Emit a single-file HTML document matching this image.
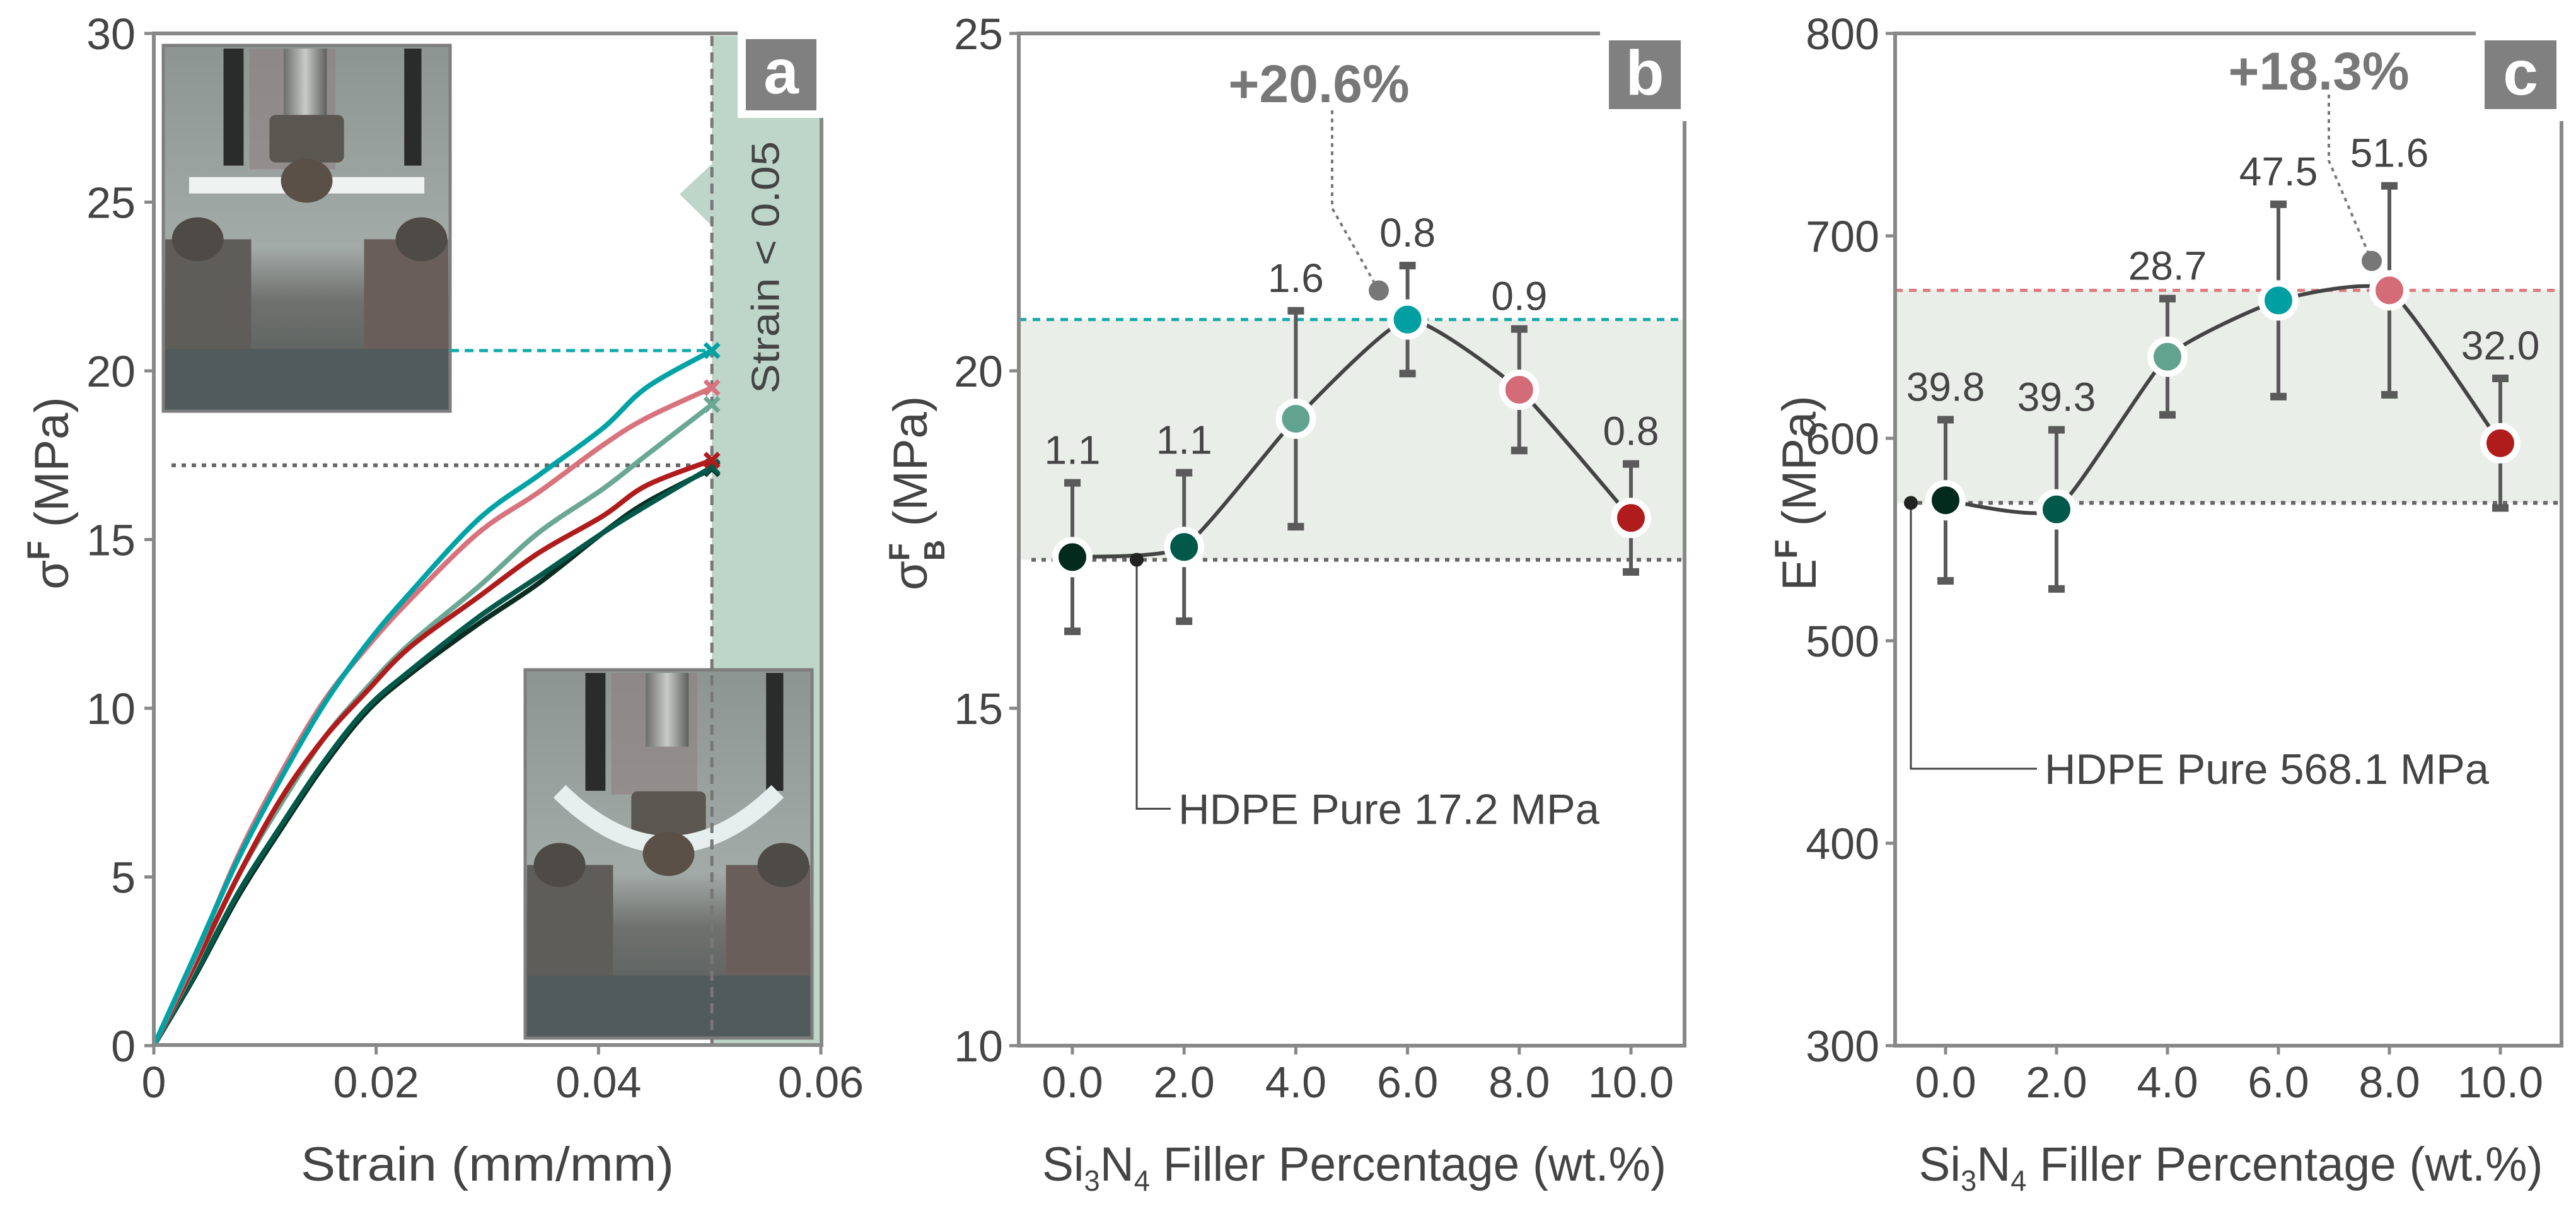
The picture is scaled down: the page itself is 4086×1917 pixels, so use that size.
<!DOCTYPE html>
<html><head><meta charset="utf-8"><style>
html,body{margin:0;padding:0;background:#fff;}
svg{display:block;font-family:"Liberation Sans",sans-serif;}
</style></head><body>
<svg id="fig" xmlns="http://www.w3.org/2000/svg" width="4086" height="1917" viewBox="0 0 4086 1917">
<defs>
<linearGradient id="bgA" x1="0" y1="0" x2="0" y2="1"><stop offset="0" stop-color="#8d9593"/><stop offset="0.55" stop-color="#a3aba8"/><stop offset="0.7" stop-color="#6f716e"/><stop offset="1" stop-color="#4f5857"/></linearGradient>
<linearGradient id="rod" x1="0" y1="0" x2="1" y2="0"><stop offset="0" stop-color="#6c6e6c"/><stop offset="0.5" stop-color="#c8cbc8"/><stop offset="1" stop-color="#5d5f5d"/></linearGradient>
</defs>
<g id="panelA"></g>
<g id="panelB"></g>
<g id="panelC"></g>
</svg>
<script>
// ---------- Panel a data ----------
const strainPts = [0, 0.00368, 0.00754, 0.0114, 0.01528, 0.01915, 0.0230, 0.0292, 0.0346, 0.0404, 0.0443, 0.0502];
const curveTeal  = [0, 2.67, 5.5, 7.9, 10.1, 11.9, 13.4, 15.6, 16.9, 18.3, 19.5, 20.6];
const curvePink  = [0, 2.6, 5.6, 8.05, 10.2, 11.8, 13.2, 15.2, 16.4, 17.8, 18.6, 19.5];
const curveSage  = [0, 2.35, 5.0, 7.15, 9.1, 10.6, 11.9, 13.6, 15.2, 16.5, 17.5, 19.0];
const curveRed   = [0, 2.4, 5.0, 7.3, 9.1, 10.5, 11.8, 13.3, 14.6, 15.7, 16.6, 17.35];
const curveDkGrn = [0, 2.1, 4.5, 6.5, 8.4, 10.0, 11.1, 12.7, 13.9, 15.2, 16.0, 17.15];
const curveDark  = [0, 2.05, 4.4, 6.4, 8.3, 9.9, 11.0, 12.5, 13.7, 15.2, 16.1, 17.1];
const aTicksX = [0, 0.02, 0.04, 0.06];
const aTickLabelsX = ["0", "0.02", "0.04", "0.06"];
const aTicksY = [0, 5, 10, 15, 20, 25, 30];
// ---------- Panel b data ----------
const filler = [0, 2, 4, 6, 8, 10];
const strengthB = [17.24, 17.39, 19.29, 20.76, 19.72, 17.82];
const strengthErr = [1.1, 1.1, 1.6, 0.8, 0.9, 0.8];
const strengthErrLabels = ["1.1", "1.1", "1.6", "0.8", "0.9", "0.8"];
const bTicksY = [10, 15, 20, 25];
const xTickLabels = ["0.0", "2.0", "4.0", "6.0", "8.0", "10.0"];
// ---------- Panel c data ----------
const modulusC = [569.4, 564.9, 640.3, 668.1, 673.1, 597.6];
const modulusErr = [39.8, 39.3, 28.7, 47.5, 51.6, 32.0];
const modulusErrLabels = ["39.8", "39.3", "28.7", "47.5", "51.6", "32.0"];
const cTicksY = [300, 400, 500, 600, 700, 800];

const ptColors = ["#022a1d", "#02594a", "#62a390", "#00a0a2", "#d46c77", "#b01c1c"];
const NS = "http://www.w3.org/2000/svg";
function mk(parent, tag, attrs, text) {
  const e = document.createElementNS(NS, tag);
  for (const k in attrs) e.setAttribute(k, attrs[k]);
  if (text !== undefined) e.textContent = text;
  parent.appendChild(e);
  return e;
}
function smooth(pts, t) {
  const k = t || 6;
  let d = "M" + pts[0][0] + "," + pts[0][1];
  for (let i = 0; i < pts.length - 1; i++) {
    const p0 = pts[Math.max(0, i - 1)], p1 = pts[i], p2 = pts[i + 1], p3 = pts[Math.min(pts.length - 1, i + 2)];
    const c1x = p1[0] + (p2[0] - p0[0]) / k, c1y = p1[1] + (p2[1] - p0[1]) / k;
    const c2x = p2[0] - (p3[0] - p1[0]) / k, c2y = p2[1] - (p3[1] - p1[1]) / k;
    d += " C" + c1x + "," + c1y + " " + c2x + "," + c2y + " " + p2[0] + "," + p2[1];
  }
  return d;
}
const AX = "#888", TXT = "#444";

// ================= PANEL A =================
(function () {
  const g = document.getElementById("panelA");
  const xA = s => 244 + s * (1058 / 0.06);
  const yA = v => 1658 - v * 53.5;
  const limX = xA(0.0502);
  const band = mk(g, "rect", { x: limX, y: 57, width: 1303 - limX, height: 1600, fill: "#bed5c9" });
  
  
  const tri = mk(g, "polygon", { points: `1078,308 ${limX},260 ${limX},358`, fill: "#bed5c9" });
  
  
  const bt = mk(g, "text", { x: 1215, y: 424, "font-size": 62, fill: TXT, "text-anchor": "middle", "dominant-baseline": "central", transform: "rotate(-90 1215 424)", textLength: 400, lengthAdjust: "spacingAndGlyphs" }, "Strain < 0.05");
  
  
  function photo(x, y, w, h, bent, name) {
    const pg = mk(g, "g", {});
    
    
    mk(pg, "rect", { x: x, y: y, width: w, height: h, fill: "url(#bgA)", stroke: "#7d7d7d", "stroke-width": 5 });
    mk(pg, "rect", { x: x + w * 0.21, y: y + 5, width: w * 0.07, height: h * 0.32, fill: "#2a2c2c" });
    mk(pg, "rect", { x: x + w * 0.84, y: y + 5, width: w * 0.06, height: h * 0.32, fill: "#2a2c2c" });
    mk(pg, "rect", { x: x + w * 0.3, y: y + 5, width: w * 0.3, height: h * 0.33, fill: "#8f7e80", opacity: 0.6 });
    mk(pg, "rect", { x: x + w * 0.42, y: y + 5, width: w * 0.15, height: h * 0.2, fill: "url(#rod)" });
    mk(pg, "rect", { x: x + w * 0.37, y: y + h * (bent ? 0.33 : 0.19), width: w * 0.26, height: h * 0.13, fill: "#5c5650", rx: 10 });
    const py = y + h * (bent ? 0.5 : 0.43);
    if (bent) mk(pg, "path", { d: `M${x + w * 0.12},${y + h * 0.33} Q${x + w * 0.5},${y + h * 0.62} ${x + w * 0.88},${y + h * 0.33}`, stroke: "#e6eeee", "stroke-width": 28, fill: "none" });
    else mk(pg, "rect", { x: x + w * 0.09, y: y + h * 0.36, width: w * 0.82, height: 26, fill: "#eef2f1" });
    mk(pg, "ellipse", { cx: x + w * 0.5, cy: py - (bent ? 0 : h * 0.06), rx: w * 0.09, ry: h * 0.06, fill: "#5a5048" });
    mk(pg, "rect", { x: x + 3, y: y + h * 0.53, width: w * 0.3, height: h * 0.3, fill: "#5f5d5a" });
    mk(pg, "rect", { x: x + w * 0.7, y: y + h * 0.53, width: w * 0.3 - 3, height: h * 0.3, fill: "#6a5e5a" });
    mk(pg, "ellipse", { cx: x + w * 0.12, cy: y + h * 0.53, rx: w * 0.09, ry: h * 0.06, fill: "#4e4a46" });
    mk(pg, "ellipse", { cx: x + w * 0.9, cy: y + h * 0.53, rx: w * 0.09, ry: h * 0.06, fill: "#4e4a46" });
    mk(pg, "rect", { x: x + 3, y: y + h * 0.83, width: w - 6, height: h * 0.17 - 3, fill: "#525b5b" });
  }
  photo(259, 72, 455, 580, false, "photo-unloaded");
  photo(833, 1062, 455, 584, true, "photo-loaded");
  const gl1 = mk(g, "line", { x1: 714, y1: yA(20.6), x2: limX, y2: yA(20.6), stroke: "#11aaaa", "stroke-width": 5, "stroke-dasharray": "14,9" });
  
  
  const gl2 = mk(g, "line", { x1: 272, y1: yA(17.2), x2: limX, y2: yA(17.2), stroke: "#666", "stroke-width": 6, "stroke-dasharray": "7,9" });
  
  
  const vl = mk(g, "line", { x1: limX, y1: 57, x2: limX, y2: 1657, stroke: "#777", "stroke-width": 5, "stroke-dasharray": "16,10" });
  
  
  const series = [[curveDark, "#0b2d22"], [curveDkGrn, "#02594a"], [curveSage, "#6aa895"], [curveRed, "#b01c1c"], [curvePink, "#d8737d"], [curveTeal, "#00a3a5"]];
  const names = ["curve-0wt", "curve-2wt", "curve-4wt", "curve-10wt", "curve-8wt", "curve-6wt"];
  series.forEach((s, i) => {
    const pts = strainPts.map((e, j) => [xA(e), yA(s[0][j])]);
    const p = mk(g, "path", { d: smooth(pts, 6), stroke: s[1], "stroke-width": 8, fill: "none", "stroke-linejoin": "round" });
    
    
    const ex = pts[pts.length - 1][0], ey = pts[pts.length - 1][1];
    const m = mk(g, "path", { d: `M${ex - 11},${ey - 11}L${ex + 11},${ey + 11}M${ex - 11},${ey + 11}L${ex + 11},${ey - 11}`, stroke: s[1], "stroke-width": 7 });
    
    
  });
  const ax = mk(g, "path", { d: "M1170,53 L244,53 L244,1657 L1303,1657 L1303,187", stroke: AX, "stroke-width": 6, fill: "none" });
  
  
  aTicksX.forEach((t, i) => {
    mk(g, "line", { x1: xA(t), y1: 1657, x2: xA(t), y2: 1672, stroke: AX, "stroke-width": 5 });
    const tl = mk(g, "text", { x: xA(t), y: 1740, "font-size": 70, fill: TXT, "text-anchor": "middle" }, aTickLabelsX[i]);
    
    
  });
  aTicksY.forEach(t => {
    mk(g, "line", { x1: 229, y1: yA(t), x2: 244, y2: yA(t), stroke: AX, "stroke-width": 5 });
    const tl = mk(g, "text", { x: 215, y: yA(t) + 25, "font-size": 70, fill: TXT, "text-anchor": "end" }, String(t));
    
    
  });
  const xt = mk(g, "text", { x: 773, y: 1872, "font-size": 76, fill: TXT, "text-anchor": "middle", textLength: 592, lengthAdjust: "spacingAndGlyphs" }, "Strain (mm/mm)");
  
  
  const yt = mk(g, "text", { x: 0, y: 0, "font-size": 76, fill: TXT, "text-anchor": "middle", transform: "translate(108 782) rotate(-90)" });
  
  
  yt.innerHTML = 'σ<tspan font-size="50" dy="-30" font-weight="bold">F</tspan><tspan dy="30">  (MPa)</tspan>';
  mk(g, "rect", { x: 1170, y: 48, width: 135, height: 139, fill: "#fff" });
  const lb = mk(g, "rect", { x: 1183, y: 62, width: 112, height: 113, fill: "#808080" });
  
  
  mk(g, "text", { x: 1239, y: 148, "font-size": 100, "font-weight": "bold", fill: "#fff", "text-anchor": "middle" }, "a");
})();

// ============ Panels b & c ============
function buildPanel(gid, cfg) {
  const g = document.getElementById(gid);
  const xS = p => cfg.x0 + p * cfg.dx;
  const yS = v => 1658 - (v - cfg.ymin) * cfg.ky;
  const L = cfg.left, R = cfg.right;
  const sh = mk(g, "rect", { x: L, y: yS(cfg.hi), width: R - L, height: yS(cfg.base) - yS(cfg.hi), fill: "#e9eee8" });
  
  
  const hl = mk(g, "line", { x1: L, y1: yS(cfg.hi), x2: R, y2: yS(cfg.hi), stroke: cfg.hiColor, "stroke-width": 5, "stroke-dasharray": "12,10" });
  
  
  const bl = mk(g, "line", { x1: L + 20, y1: yS(cfg.base), x2: R, y2: yS(cfg.base), stroke: "#666", "stroke-width": 6, "stroke-dasharray": "7,9" });
  
  
  const ann = mk(g, "path", { d: `M${cfg.dotX},${yS(cfg.base)} L${cfg.dotX},${yS(cfg.annV)} L${cfg.annX},${yS(cfg.annV)}`, stroke: "#444", "stroke-width": 3, fill: "none" });
  
  
  const at = mk(g, "text", { x: cfg.annX + 12, y: yS(cfg.annV) + 24, "font-size": 68, fill: TXT, textLength: cfg.annLen, lengthAdjust: "spacingAndGlyphs" }, cfg.annText);
  
  
  const pl = mk(g, "path", { d: `M${cfg.pctLineX},${cfg.pctTop} L${cfg.pctLineX},${cfg.pctElbow} L${cfg.gdX},${yS(cfg.gdV)}`, stroke: "#777", "stroke-width": 4, fill: "none", "stroke-dasharray": "6,7" });
  
  
  mk(g, "circle", { cx: cfg.gdX, cy: yS(cfg.gdV), r: 16, fill: "#777" });
  const pt = mk(g, "text", { x: cfg.pctX, y: cfg.pctY, "font-size": 84, "font-weight": "bold", fill: "#777", "text-anchor": "middle" }, cfg.pctText);
  
  
  const pts = filler.map((p, i) => [xS(p), yS(cfg.vals[i])]);
  const ln = mk(g, "path", { d: smooth(pts, 12), stroke: "#444", "stroke-width": 6, fill: "none" });
  
  
  mk(g, "circle", { cx: cfg.dotX, cy: yS(cfg.base), r: 11, fill: "#222" });
  filler.forEach((p, i) => {
    const x = xS(p), v = cfg.vals[i], e = cfg.errs[i];
    const eb = mk(g, "path", { d: `M${x},${yS(v + e)} L${x},${yS(v - e)}`, stroke: "#5a5a5a", "stroke-width": 6, fill: "none" });
    
    
    mk(g, "rect", { x: x - 13, y: yS(v + e) - 6, width: 26, height: 12, fill: "#5a5a5a" });
    mk(g, "rect", { x: x - 13, y: yS(v - e) - 6, width: 26, height: 12, fill: "#5a5a5a" });
    const c = mk(g, "circle", { cx: x, cy: yS(v), r: 27, fill: ptColors[i], stroke: "#fff", "stroke-width": 10 });
    
    
    const lt = mk(g, "text", { x: x, y: yS(v + e) - 30, "font-size": 64, fill: TXT, "text-anchor": "middle" }, cfg.errLabels[i]);
    
    
  });
  const ax = mk(g, "path", { d: `M${cfg.topEnd},53 L${L},53 L${L},1658 L${R},1658 L${R},${cfg.rTop}`, stroke: AX, "stroke-width": 6, fill: "none" });
  
  
  filler.forEach((p, i) => {
    mk(g, "line", { x1: xS(p), y1: 1658, x2: xS(p), y2: 1672, stroke: AX, "stroke-width": 5 });
    const tl = mk(g, "text", { x: xS(p), y: 1740, "font-size": 70, fill: TXT, "text-anchor": "middle" }, xTickLabels[i]);
    
    
  });
  cfg.ticks.forEach(t => {
    mk(g, "line", { x1: L - 15, y1: yS(t), x2: L, y2: yS(t), stroke: AX, "stroke-width": 5 });
    const tl = mk(g, "text", { x: L - 25, y: yS(t) + 25, "font-size": 70, fill: TXT, "text-anchor": "end" }, String(t));
    
    
  });
  const xt = mk(g, "text", { x: (L + R) / 2 + 4, y: 1872, "font-size": 76, fill: TXT, "text-anchor": "middle", textLength: 990, lengthAdjust: "spacingAndGlyphs" });
  
  
  xt.innerHTML = 'Si<tspan font-size="46" dy="16">3</tspan><tspan dy="-16">N</tspan><tspan font-size="46" dy="16">4</tspan><tspan dy="-16"> Filler Percentage (wt.%)</tspan>';
  const yt = mk(g, "text", { x: 0, y: 0, "font-size": 76, fill: TXT, "text-anchor": "middle", transform: `translate(${cfg.ytX} 782) rotate(-90)` });
  
  
  yt.innerHTML = cfg.ytHtml;
  mk(g, "rect", { x: cfg.lbX - 14, y: 50, width: 142, height: 137, fill: "#fff" });
  const lb = mk(g, "rect", { x: cfg.lbX, y: 64, width: 114, height: 109, fill: "#808080" });
  
  
  mk(g, "text", { x: cfg.lbX + 57, y: 150, "font-size": 100, "font-weight": "bold", fill: "#fff", "text-anchor": "middle" }, cfg.letter);
}

buildPanel("panelB", {
  x0: 1701, dx: 88.6, ymin: 10, ky: 107, left: 1616, right: 2672,
  vals: strengthB, errs: strengthErr, errLabels: strengthErrLabels, ticks: bTicksY,
  hi: 20.76, hiColor: "#1aaaaa", base: 17.2,
  dotX: 1803, annV: 13.51, annX: 1857, annText: "HDPE Pure 17.2 MPa", annLen: 668,
  pctX: 2092, pctY: 162, pctText: "+20.6%", pctLineX: 2113, pctTop: 175, pctElbow: 330, gdX: 2187, gdV: 21.19,
  topEnd: 2538, rTop: 192, lbX: 2552, letter: "b", ytX: 1470,
  ytHtml: 'σ<tspan font-size="46" dy="-28" font-weight="bold">F</tspan><tspan font-size="46" dx="-28" dy="56" font-weight="bold">B</tspan><tspan dy="-28">  (MPa)</tspan>'
});
buildPanel("panelC", {
  x0: 3086, dx: 88.0, ymin: 300, ky: 3.21, left: 3006, right: 4063,
  vals: modulusC, errs: modulusErr, errLabels: modulusErrLabels, ticks: cTicksY,
  hi: 673.1, hiColor: "#e07a80", base: 568.1,
  dotX: 3031, annV: 436.8, annX: 3231, annText: "HDPE Pure 568.1 MPa", annLen: 705,
  pctX: 3678, pctY: 142, pctText: "+18.3%", pctLineX: 3694, pctTop: 150, pctElbow: 255, gdX: 3762, gdV: 687.6,
  topEnd: 3928, rTop: 192, lbX: 3941, letter: "c", ytX: 2880,
  ytHtml: 'E<tspan font-size="50" dy="-30" font-weight="bold">F</tspan><tspan dy="30">  (MPa)</tspan>'
});
</script>
</body></html>
